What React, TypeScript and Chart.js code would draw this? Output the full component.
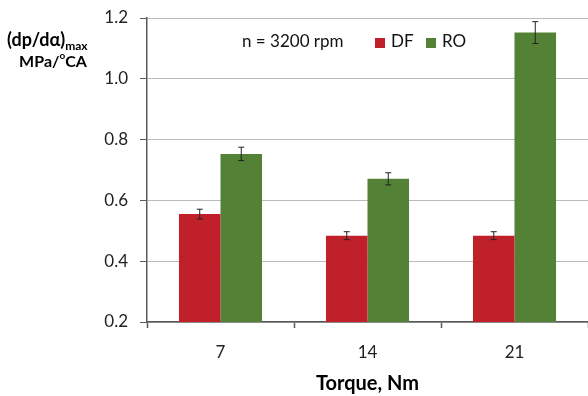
import React, { useEffect, useRef } from "react";
import { Chart, registerables } from "chart.js";

Chart.register(...registerables);

const categories = ["7", "14", "21"];
const dfValues = [0.555, 0.484, 0.484];
const dfErrors = [0.016, 0.013, 0.013];
const roValues = [0.753, 0.671, 1.152];
const roErrors = [0.022, 0.02, 0.036];
const yTicks = [0.2, 0.4, 0.6, 0.8, 1.0, 1.2];

const FONT = "Lato, 'Open Sans', sans-serif";
const RED = "#C0202A";
const GREEN = "#538135";

const errorBarPlugin = {
  id: "errorBars",
  afterDatasetsDraw(chart: any) {
    const ctx = chart.ctx;
    const y = chart.scales.y;
    chart.data.datasets.forEach((ds: any, i: number) => {
      const meta = chart.getDatasetMeta(i);
      meta.data.forEach((el: any, j: number) => {
        const v = ds.data[j];
        const e = ds.errors[j];
        const top = y.getPixelForValue(v + e);
        const bot = y.getPixelForValue(v - e);
        ctx.save();
        ctx.strokeStyle = "#222";
        ctx.lineWidth = 1;
        ctx.beginPath();
        ctx.moveTo(el.x, top);
        ctx.lineTo(el.x, bot);
        ctx.moveTo(el.x - 3, top);
        ctx.lineTo(el.x + 3, top);
        ctx.moveTo(el.x - 3, bot);
        ctx.lineTo(el.x + 3, bot);
        ctx.stroke();
        ctx.restore();
      });
    });
  },
};

const annotationPlugin = {
  id: "annotations",
  afterDraw(chart: any) {
    const ctx = chart.ctx;
    ctx.save();
    ctx.fillStyle = "#000";
    ctx.textBaseline = "alphabetic";
    // Y axis title
    ctx.font = `bold 18px ${FONT}`;
    ctx.textAlign = "left";
    const t1 = "(dp/dα)";
    ctx.fillText(t1, 7, 46);
    const w1 = ctx.measureText(t1).width;
    ctx.font = `bold 12px ${FONT}`;
    ctx.fillText("max", 7 + w1, 50);
    ctx.font = `bold 16px ${FONT}`;
    const a = "MPa/";
    const b = "CA";
    const wa = ctx.measureText(a).width;
    const wb = ctx.measureText(b).width;
    ctx.font = `bold 10px ${FONT}`;
    const wo = ctx.measureText("o").width;
    const total = wa + wo + wb;
    const sx = 53 - total / 2;
    ctx.font = `bold 16px ${FONT}`;
    ctx.fillText(a, sx, 67);
    ctx.font = `bold 10px ${FONT}`;
    ctx.fillText("o", sx + wa, 59);
    ctx.font = `bold 16px ${FONT}`;
    ctx.fillText(b, sx + wa + wo, 67);

    // Legend / note
    ctx.font = `17px ${FONT}`;
    ctx.textBaseline = "middle";
    ctx.fillStyle = "#111";
    ctx.fillText("n = 3200 rpm", 242, 42);
    const items = [
      { label: chart.data.datasets[0].label, color: chart.data.datasets[0].backgroundColor, x: 375 },
      { label: chart.data.datasets[1].label, color: chart.data.datasets[1].backgroundColor, x: 426 },
    ];
    items.forEach((it) => {
      ctx.fillStyle = it.color;
      ctx.fillRect(it.x, 38, 10, 10);
      ctx.fillStyle = "#111";
      ctx.fillText(it.label, it.x + 16, 42);
    });
    ctx.restore();
  },
};

export default function App() {
  const ref = useRef<HTMLCanvasElement>(null);
  useEffect(() => {
    document.body.style.margin = "0";
    const chart = new Chart(ref.current!, {
      type: "bar",
      data: {
        labels: categories,
        datasets: [
          { label: "DF", data: dfValues, errors: dfErrors, backgroundColor: RED, borderWidth: 0 } as any,
          { label: "RO", data: roValues, errors: roErrors, backgroundColor: GREEN, borderWidth: 0 } as any,
        ],
      },
      options: {
        animation: false,
        responsive: false,
        maintainAspectRatio: false,
        layout: { padding: { top: 18, right: 0, left: 0, bottom: 0 } },
        datasets: { bar: { categoryPercentage: 0.565, barPercentage: 1 } },
        plugins: { legend: { display: false }, tooltip: { enabled: false } },
        scales: {
          x: {
            offset: true,
            grid: {
              offset: true,
              drawOnChartArea: false,
              drawTicks: true,
              tickLength: 6,
              tickColor: "#595959",
              tickWidth: 1.5,
            },
            border: { color: "#595959", width: 1.5 },
            ticks: { font: { family: FONT, size: 17 }, color: "#222", padding: 14 },
            title: {
              display: true,
              text: "Torque, Nm",
              font: { family: FONT, size: 20, weight: "bold" },
              color: "#000",
              padding: { top: 4, bottom: 0 },
            },
            afterFit: (s: any) => {
              s.height = 74;
              s.paddingLeft = 0;
              s.paddingRight = 0;
            },
          },
          y: {
            min: 0.2,
            max: 1.2,
            afterBuildTicks: (s: any) => {
              s.ticks = yTicks.map((v) => ({ value: v }));
            },
            grid: {
              color: "#BBBBBB",
              borderDash: [2, 2],
              lineWidth: 1,
              tickLength: 7,
              tickColor: "#595959",
              tickBorderDash: [],
            } as any,
            border: { color: "#595959", width: 1.5, dash: [] },
            ticks: {
              font: { family: FONT, size: 17 },
              color: "#222",
              padding: 12,
              callback: (v: any) => Number(v).toFixed(1),
            },
            afterFit: (s: any) => {
              s.width = 147;
              s.paddingTop = 0;
              s.paddingBottom = 0;
            },
          },
        },
      },
      plugins: [errorBarPlugin, annotationPlugin],
    } as any);
    return () => chart.destroy();
  }, []);
  return (
    <div style={{ position: "absolute", left: 0, top: 0, width: 588, height: 396 }}>
      <canvas ref={ref} width={588} height={396} />
    </div>
  );
}
